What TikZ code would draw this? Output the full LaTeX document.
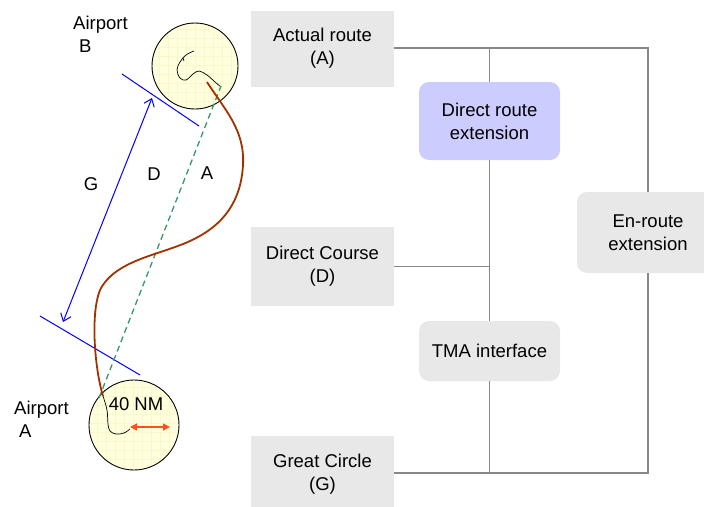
\documentclass[tikz,border=0pt]{standalone}
\usepackage{fontspec}
\setmainfont{Liberation Sans}
\usetikzlibrary{arrows.meta}
\definecolor{boxgray}{RGB}{232,232,232}
\definecolor{lav}{RGB}{204,204,255}
\definecolor{linegray}{RGB}{136,136,136}
\definecolor{brownr}{RGB}{160,50,0}
\definecolor{dgreen}{RGB}{51,153,102}
\definecolor{apt}{RGB}{255,255,221}
\definecolor{aptgrid}{RGB}{248,248,205}
\definecolor{redarr}{RGB}{255,80,30}
\begin{document}
\begin{tikzpicture}[x=1pt,y=-1pt,
  every node/.style={font=\fontsize{18.5}{23}\selectfont, inner sep=0pt, align=center},
  sqbox/.style={fill=boxgray, draw=none, minimum width=143pt},
  rbox/.style={fill=boxgray, rounded corners=10pt, minimum width=141pt},
  conn/.style={draw=linegray, line width=1.3pt},
  airport/.style={circle, draw=black, fill=apt, line width=0.9pt},
  aptgridline/.style={aptgrid, line width=0.5pt},
  track/.style={black, line width=0.7pt},
  tick/.style={blue, line width=1pt},
  dist/.style={blue, line width=1pt, {Straight Barb[length=7pt,width=11pt]}-{Straight Barb[length=7pt,width=11pt]}},
  radius arrow/.style={redarr, line width=1.4pt, {Triangle[length=7pt,width=7pt]}-{Triangle[length=7pt,width=7pt]}},
  direct/.style={dgreen, line width=1.3pt, dash pattern=on 6pt off 4pt},
  actual/.style={brownr, line width=1.8pt}
]
\useasboundingbox (0,0) rectangle (704,506);
\clip (0,0) rectangle (704,506);

% ---- right-hand boxes
\node[sqbox, minimum height=76pt] (act) at (322.5,48.5) {Actual route\\(A)};
\node[sqbox, minimum height=79pt] (dc) at (322.5,266.5) {Direct Course\\(D)};
\node[sqbox, minimum height=76pt] (gc) at (322.5,474) {Great Circle\\(G)};
\node[rbox, fill=lav, minimum height=78pt] (dre) at (489.5,121) {Direct route\\extension};
\node[rbox, minimum height=60pt] (tma) at (489.5,351) {TMA interface};
\node[rbox, minimum width=142pt, minimum height=81pt] (enr) at (648,232.5) {En-route\\extension};

% ---- connectors
\coordinate (actR) at (394,48);
\coordinate (gcR) at (394,473);
\draw[conn] (actR) -| (enr.north);
\draw[conn] (enr.south) |- (gcR);
\draw[conn] (actR -| dre.north) -- (dre.north);
\draw[conn] (dre.south) -- (tma.north);
\draw[conn] (tma.south) -- (tma.south |- gcR);
\draw[conn] (dc.east) -- (dc.east -| dre.south);

% ---- airports
\node[airport, minimum size=86pt] (apB) at (195,66) {};
\node[airport, minimum size=90pt] (apA) at (134,425) {};
\begin{scope}
  \clip (195,66) circle (41.5);
  \foreach \i in {0,...,10} {
    \draw[aptgridline] (150+9*\i,20) -- (150+9*\i,112);
    \draw[aptgridline] (150,20+9*\i) -- (240,20+9*\i);
  }
\end{scope}
\begin{scope}
  \clip (134,425) circle (43.5);
  \foreach \i in {0,...,10} {
    \draw[aptgridline] (88+9*\i,378) -- (88+9*\i,472);
    \draw[aptgridline] (88,378+9*\i) -- (180,378+9*\i);
  }
\end{scope}

% ---- tracks inside airports
\draw[track] plot[smooth, tension=0.6] coordinates {(194,51) (186,55) (180,62) (177,70) (180,78) (186,80) (193,74) (199,71) (207,75) (215,82) (221,87)};
\draw[track] (183,58) -- (184,61);
\draw[track] plot[smooth, tension=0.6] coordinates {(103,396) (107,410) (108,424) (110,431) (116,434) (124,433) (130,429)};

% ---- measurement lines
\draw[tick] (122,74) -- (199,126);
\draw[tick] (40,316) -- (140,375);
\coordinate (gTop) at (152,98);
\coordinate (gBot) at (63,322);
\draw[dist] (gTop) -- (gBot);

\draw[direct] (99,398) -- (221,86);
\draw[actual] (207,82) .. controls (225,110) and (245,130) .. (243,165)
  .. controls (241,200) and (225,225) .. (190,241)
  .. controls (160,255) and (115,260) .. (100,290)
  .. controls (90,315) and (95,370) .. (103,396);

\draw[radius arrow] (130,427) -- (170,427);

% ---- labels
\node[anchor=west, align=left] (lblB) at (73,34) {Airport\\\hspace*{6pt}B};
\node[anchor=west, align=left] (lblA) at (14,419.5) {Airport\\\hspace*{5pt}A};
\node (nm) at (136,404.5) {40 NM};
\node (lG) at (91,184) {G};
\node (lD) at (154,174) {D};
\node (lA) at (207,173) {A};
\end{tikzpicture}
\end{document}
